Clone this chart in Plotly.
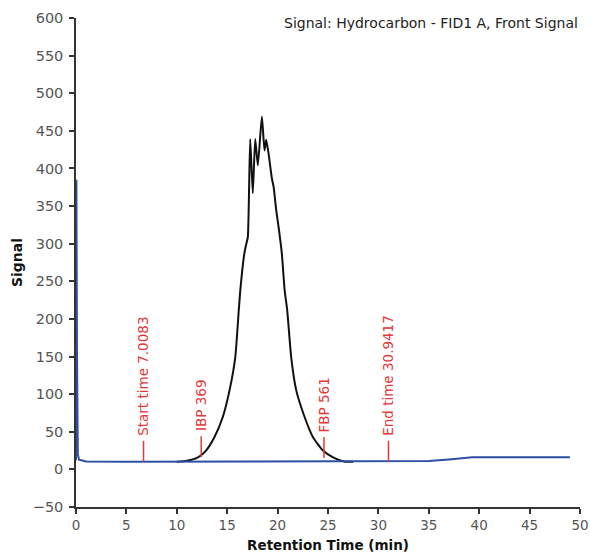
import plotly.graph_objects as go

# Hydrocarbon sample trace (black)
sample_time = [10, 11, 12.1, 12.9, 13.74, 14.57, 15.23, 15.8, 16.15, 16.3, 16.7, 16.9, 17.05,
               17.28, 17.54, 17.78, 18.04, 18.44, 18.7, 18.87, 19.1, 19.43, 19.6, 19.86,
               20.1, 20.42, 20.7, 20.95, 21.35, 21.85, 22.67, 23.5, 24.5, 25.5, 26.6, 27.5]
sample_signal = [10, 11.5, 16, 25, 43, 70, 105, 149, 212, 238, 287, 300, 309,
                 439, 367, 439, 404, 469, 424, 438, 420, 387, 376, 345,
                 322, 287, 238, 212, 149, 105, 70, 43, 25, 16, 10.5, 10]

# Blank / baseline trace (blue)
blank_time = [0, 0.04, 0.1, 0.18, 0.3, 0.6, 1, 5, 10, 20, 30, 33, 35, 37, 38.9, 39.3, 49]
blank_signal = [12, 385, 150, 20, 13, 11.5, 10.5, 10, 10, 10, 10, 10.3, 11, 13, 15.8, 16, 16]

# Markers
marker_time = [6.7, 12.42, 24.6, 31.0]
marker_base = [10, 16, 15, 10]
marker_labels = ["Start time 7.0083", "IBP 369", "FBP 561", "End time 30.9417"]

x_ticks = list(range(0, 55, 5))
y_ticks = list(range(-50, 650, 50))

RED = "#e2383a"
FONT = "DejaVu Sans"
fig = go.Figure()

fig.add_trace(go.Scatter(x=sample_time, y=sample_signal, mode="lines",
                         line=dict(color="#111111", width=2, shape="spline", smoothing=0.5),
                         showlegend=False))
fig.add_trace(go.Scatter(x=blank_time, y=blank_signal, mode="lines",
                         line=dict(color="#2b50a3", width=2), showlegend=False))

for t, b, lab in zip(marker_time, marker_base, marker_labels):
    fig.add_trace(go.Scatter(x=[t, t], y=[b, b + 28], mode="lines",
                             line=dict(color=RED, width=1.5), showlegend=False))
    fig.add_annotation(x=t, y=b + 32, text=lab, textangle=-90, showarrow=False,
                       xanchor="center", yanchor="bottom",
                       font=dict(family=FONT, size=13.5, color=RED))

fig.add_annotation(xref="paper", yref="paper", x=1, y=1, xanchor="right", yanchor="middle",
                   yshift=-5, text="Signal: Hydrocarbon - FID1 A, Front Signal", showarrow=False,
                   font=dict(family=FONT, size=14, color="#222222"))

axis_common = dict(showline=True, linecolor="#333333", linewidth=1.5, ticks="outside",
                   ticklen=5, tickwidth=1.5, tickcolor="#333333", showgrid=False, zeroline=False,
                   automargin=False)

fig.update_layout(
    width=590, height=557,
    margin=dict(l=76, r=10, t=18, b=50),
    plot_bgcolor="white", paper_bgcolor="white",
    xaxis=dict(range=[0, 50], tickvals=x_ticks, ticklabeloverflow="allow", **axis_common,
               tickfont=dict(family=FONT, size=13.5, color="#555555"),
               title=dict(text="<b>Retention Time (min)</b>", standoff=9,
                          font=dict(family=FONT, size=13.5, color="#111111"))),
    yaxis=dict(range=[-50, 600], tickvals=y_ticks, ticklabelstandoff=3, **axis_common,
               tickfont=dict(family=FONT, size=14.5, color="#555555"),
               title=dict(text="<b>Signal</b>", standoff=7,
                          font=dict(family=FONT, size=14, color="#111111"))),
)

fig.write_html("out.html", config={"displayModeBar": False},
               post_script="document.body.style.margin='0';document.body.style.overflow='hidden';")
